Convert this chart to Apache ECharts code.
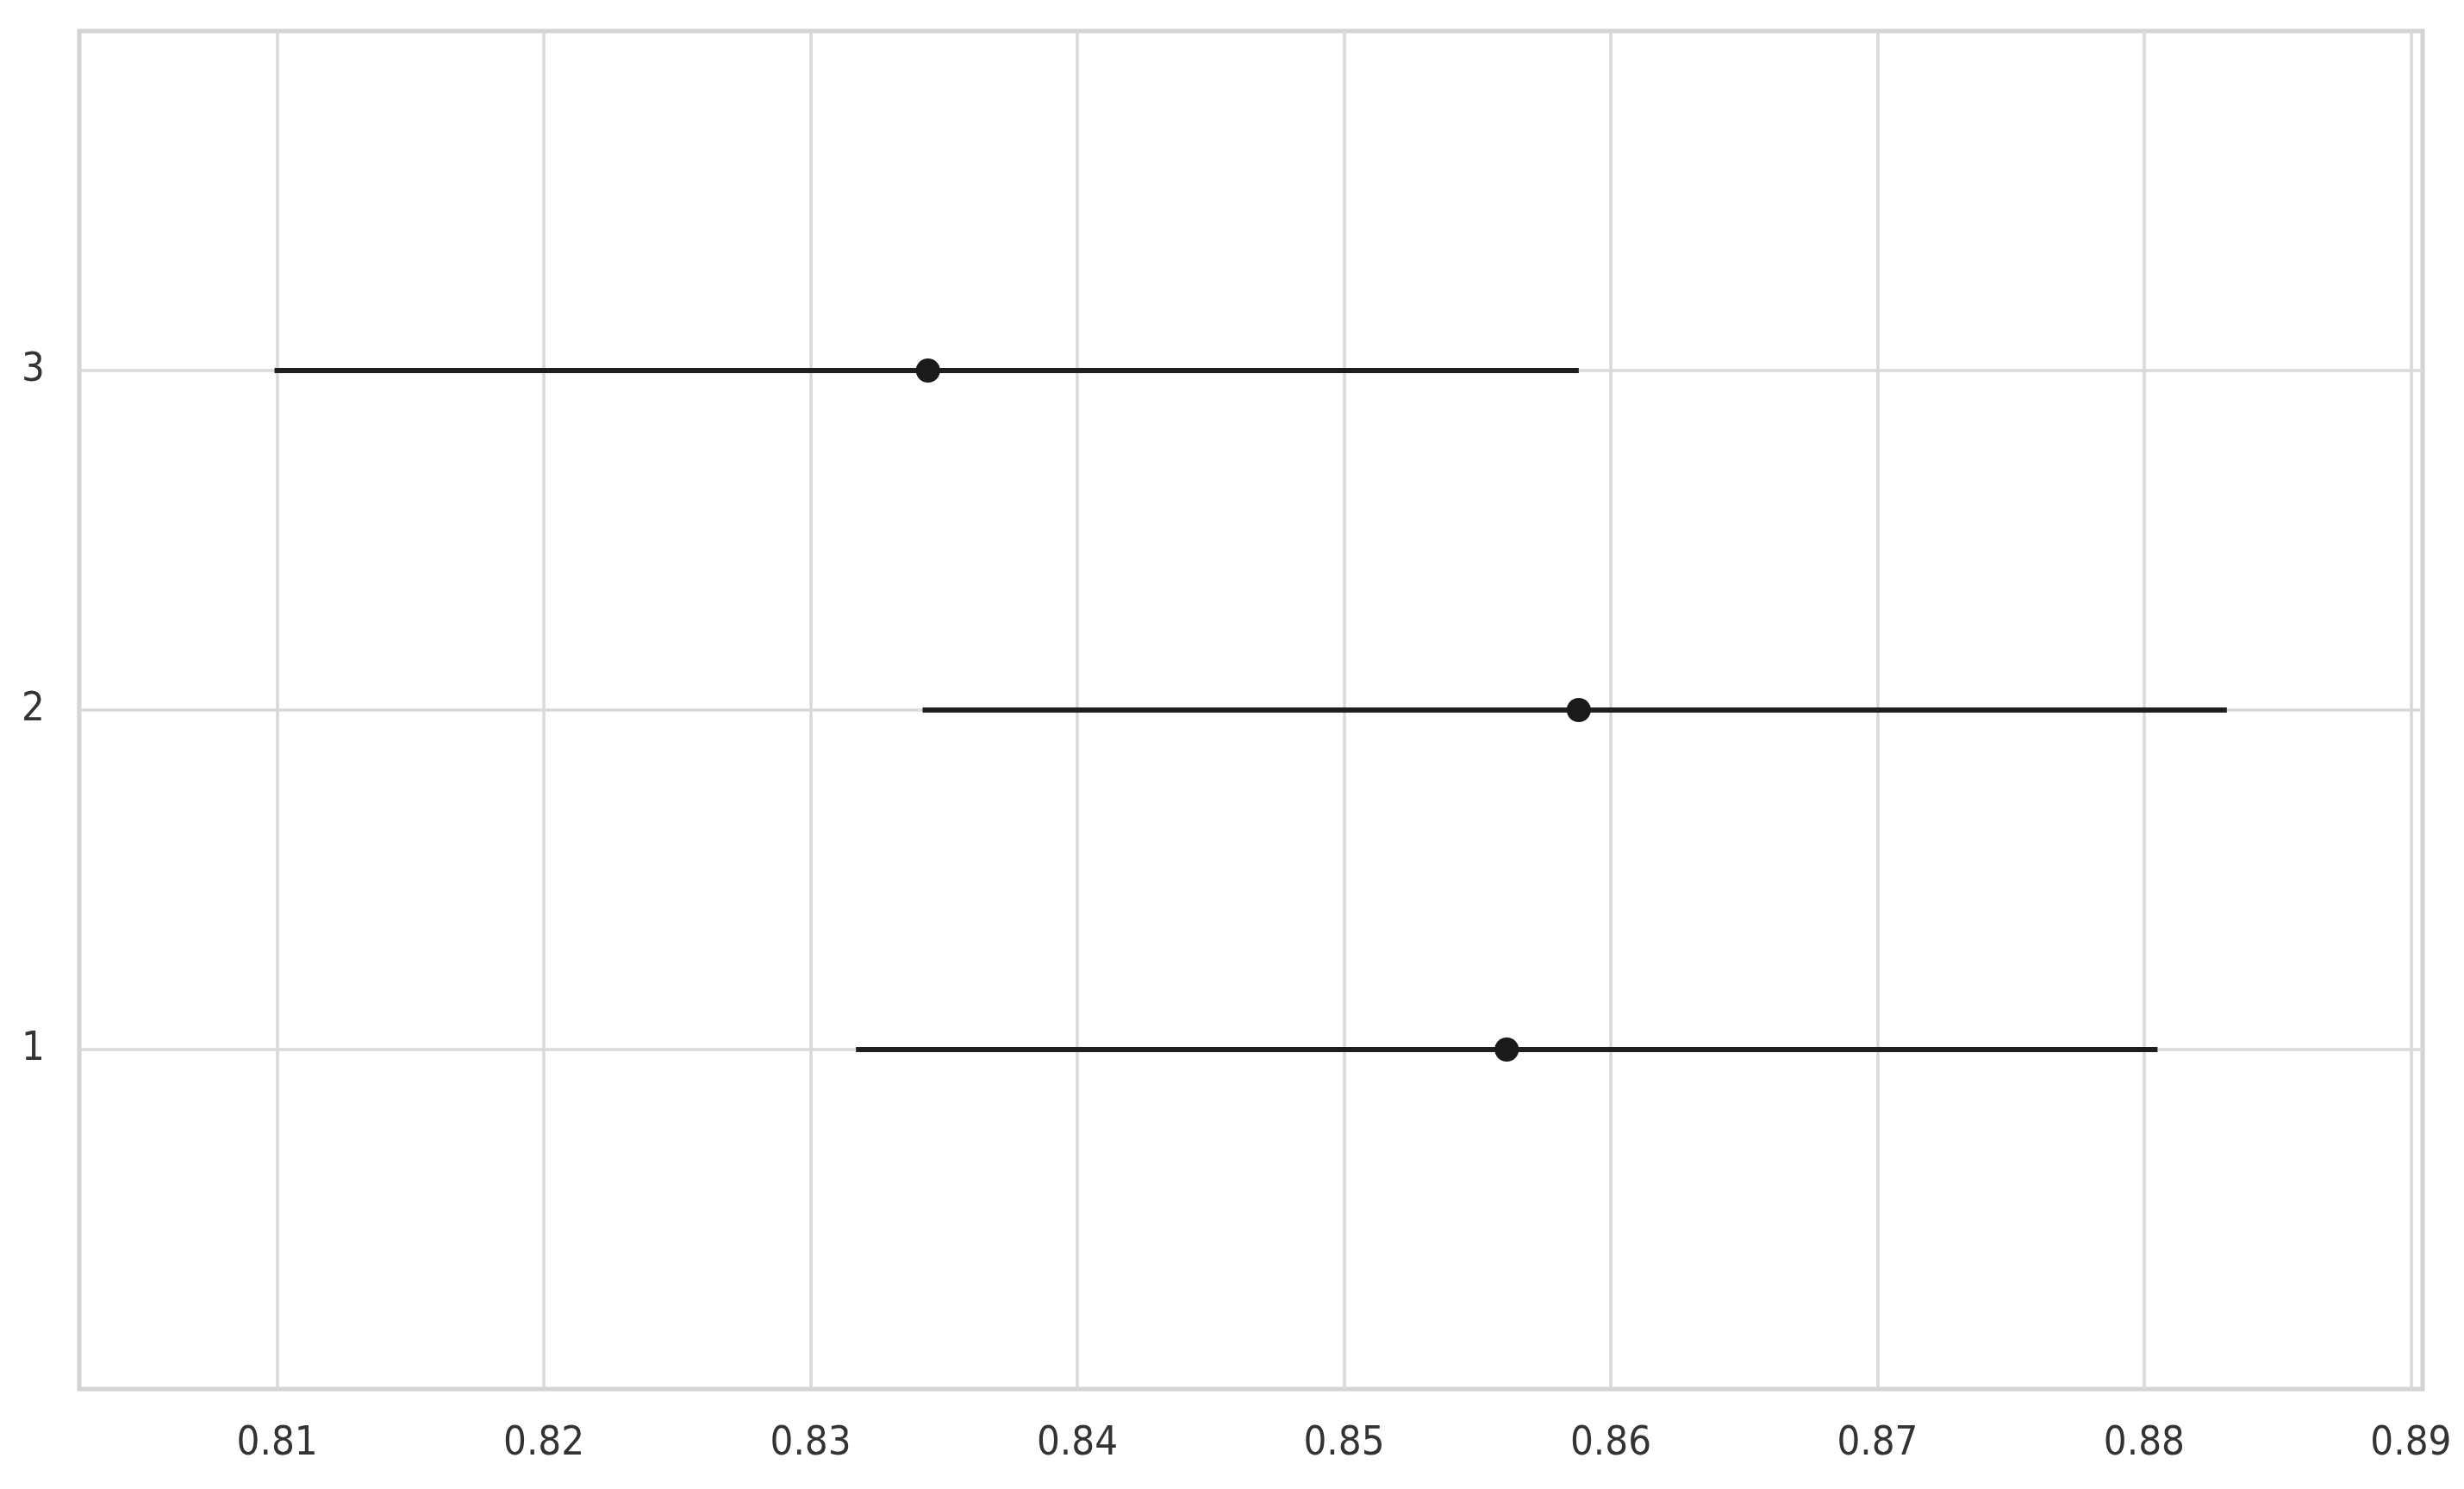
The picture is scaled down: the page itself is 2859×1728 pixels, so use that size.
<!DOCTYPE html>
<html>
<head>
<meta charset="utf-8">
<script src="https://cdn.jsdelivr.net/npm/echarts@6/dist/echarts.min.js"></script>
<style>
html,body{margin:0;padding:0;background:#fff;}
#chart{width:2859px;height:1728px;}
</style>
</head>
<body>
<div id="chart"></div>
<script>
const categories = [1, 2, 3];
const means = [0.8561, 0.8588, 0.8344];
const lowers = [0.8317, 0.8342, 0.8099];
const uppers = [0.8805, 0.8831, 0.8588];
const xTicks = [0.81, 0.82, 0.83, 0.84, 0.85, 0.86, 0.87, 0.88, 0.89];
const yTicks = [1, 2, 3];

const FONT = "'DejaVu Sans Condensed', 'Liberation Sans Narrow', 'DejaVu Sans', sans-serif";
const chart = echarts.init(document.getElementById('chart'));
const barData = categories.map((c, i) => [lowers[i], uppers[i], c]);
const dotData = categories.map((c, i) => [means[i], c]);

chart.setOption({
  animation: false,
  backgroundColor: '#ffffff',
  grid: {
    left: 92, right: 48, top: 36, bottom: 116,
    show: true, borderColor: '#d4d4d4', borderWidth: 5, backgroundColor: '#ffffff'
  },
  xAxis: {
    type: 'value', min: 0.80258, max: 0.89044,
    axisLine: {show: false},
    axisTick: {show: false, customValues: xTicks},
    axisLabel: {customValues: xTicks, color: '#333', fontSize: 47, fontFamily: FONT, margin: 40,
      formatter: v => v.toFixed(2)},
    splitLine: {show: true, lineStyle: {color: '#d9d9d9', width: 3.5}}
  },
  yAxis: {
    type: 'value', min: 0, max: 4,
    axisLine: {show: false},
    axisTick: {show: false, customValues: yTicks},
    axisLabel: {customValues: yTicks, color: '#333', fontSize: 47, fontFamily: FONT, margin: 40},
    splitLine: {show: true, lineStyle: {color: '#d9d9d9', width: 3.5}}
  },
  series: [
    {
      type: 'custom',
      data: barData,
      encode: {x: [0, 1], y: 2},
      renderItem: function (params, api) {
        const p1 = api.coord([api.value(0), api.value(2)]);
        const p2 = api.coord([api.value(1), api.value(2)]);
        return {
          type: 'line',
          shape: {x1: p1[0], y1: p1[1], x2: p2[0], y2: p2[1]},
          style: {stroke: '#1f1f1f', lineWidth: 6}
        };
      },
      z: 3
    },
    {
      type: 'scatter',
      data: dotData,
      symbol: 'circle',
      symbolSize: 28,
      itemStyle: {color: '#1a1a1a', opacity: 1},
      z: 4
    }
  ]
});
</script>
</body>
</html>
